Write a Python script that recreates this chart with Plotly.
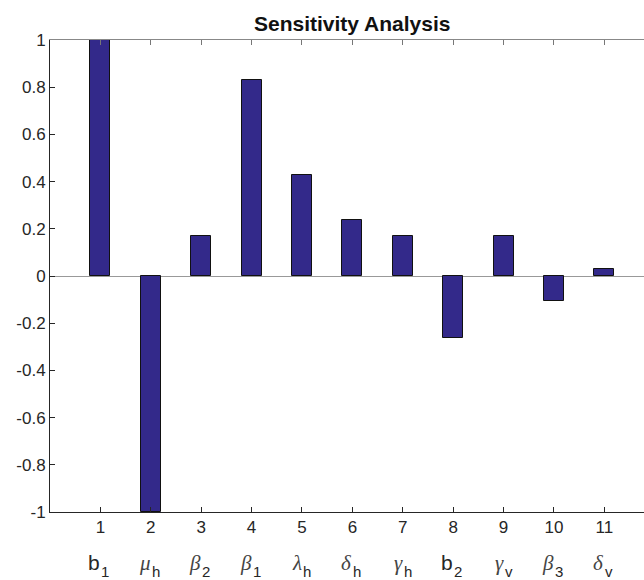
import plotly.graph_objects as go

# Sensitivity indices of the model parameters
positions = list(range(1, 12))
param_symbols = ["b", "μ", "β", "β", "λ", "δ", "γ", "b", "γ", "β", "δ"]
param_subscripts = ["1", "h", "2", "1", "h", "h", "h", "2", "v", "3", "v"]
sensitivity = [1.0, -1.0, 0.171, 0.83, 0.427, 0.236, 0.171, -0.264, 0.171, -0.105, 0.028]

y_ticks = [-1, -0.8, -0.6, -0.4, -0.2, 0, 0.2, 0.4, 0.6, 0.8, 1]
y_tick_text = ["-1", "-0.8", "-0.6", "-0.4", "-0.2", "0", "0.2", "0.4", "0.6", "0.8", "1"]

font_family = "Liberation Sans, Arial, sans-serif"
serif_family = "Liberation Serif, DejaVu Serif, serif"
axis_color = "#262626"

fig = go.Figure()
fig.add_trace(go.Bar(
    x=positions,
    y=sensitivity,
    width=0.4,
    marker=dict(color="#33298a", line=dict(color="#111111", width=1)),
    showlegend=False,
))
# invisible trace to carry the mirrored top axis
fig.add_trace(go.Scatter(x=[positions[0]], y=[0], xaxis="x2", mode="markers",
                         marker=dict(opacity=0), showlegend=False, hoverinfo="skip"))

x_range = [0, 11.786]

fig.update_layout(
    width=644,
    height=580,
    margin=dict(l=50, r=0, t=40, b=68),
    plot_bgcolor="white",
    paper_bgcolor="white",
    font=dict(family=font_family, size=17, color=axis_color),
    xaxis=dict(
        range=x_range,
        tickvals=positions,
        ticktext=[str(p) for p in positions],
        ticks="inside",
        ticklen=5,
        tickcolor=axis_color,
        showline=True,
        linecolor=axis_color,
        linewidth=1,
        showgrid=False,
        zeroline=False,
        tickfont=dict(size=17, color=axis_color),
    ),
    xaxis2=dict(
        range=x_range,
        overlaying="x",
        side="top",
        tickvals=positions,
        ticks="inside",
        ticklen=5,
        tickcolor="#777777",
        showline=True,
        linecolor="#888888",
        linewidth=1,
        showticklabels=False,
        showgrid=False,
        zeroline=False,
    ),
    yaxis=dict(
        range=[-1, 1],
        tickvals=y_ticks,
        ticktext=y_tick_text,
        ticks="inside",
        ticklen=5,
        tickcolor=axis_color,
        showline=True,
        linecolor=axis_color,
        linewidth=1,
        showgrid=False,
        zeroline=True,
        zerolinecolor="#999999",
        zerolinewidth=1,
        tickfont=dict(size=17, color=axis_color),
    ),
    bargap=0,
)

# Title centred over the full axis span
fig.add_annotation(
    text="<b>Sensitivity Analysis</b>",
    x=6, xref="x", y=1.0, yref="paper",
    yanchor="bottom", yshift=3, showarrow=False,
    font=dict(family=font_family, size=21, color="#111111"),
)

# Parameter symbols (with subscripts) under the numeric ticks
for pos, sym, sub in zip(positions, param_symbols, param_subscripts):
    is_latin = sym.isascii()
    fig.add_annotation(
        text=sym if is_latin else f"<i>{sym}</i>",
        x=pos, xref="x", xanchor="right", xshift=2,
        y=-0.108, yref="paper", yanchor="middle", showarrow=False,
        font=dict(family=font_family if is_latin else serif_family,
                  size=21, color=axis_color if is_latin else "#444444"),
    )
    fig.add_annotation(
        text=sub,
        x=pos, xref="x", xanchor="left", xshift=-1,
        y=-0.127, yref="paper", yanchor="middle", showarrow=False,
        font=dict(family=font_family, size=15, color=axis_color),
    )

fig.write_html("out.html")
